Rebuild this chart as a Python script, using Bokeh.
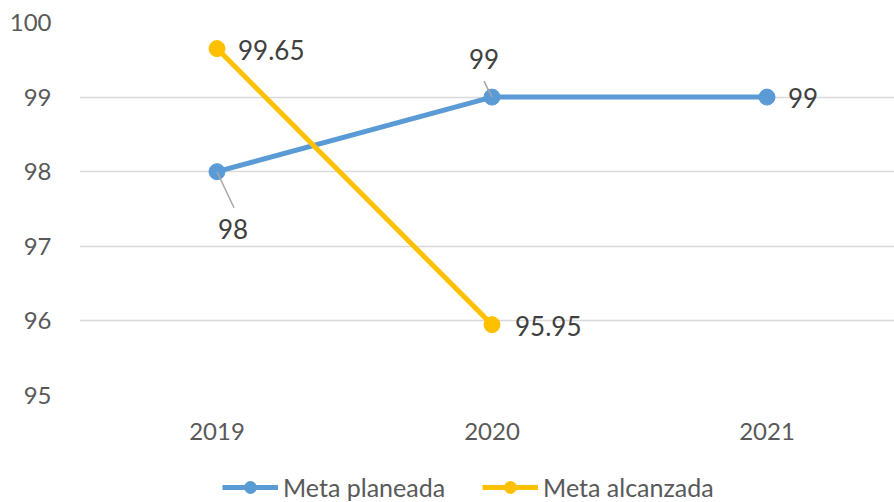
from bokeh.plotting import figure
from bokeh.layouts import column
from bokeh.models import (ColumnDataSource, FixedTicker, Legend, LegendItem, Range1d,
                          CustomJSTickFormatter)
from bokeh.core.properties import value
from bokeh.embed import file_html
from bokeh.resources import INLINE

# ---- data ----
years = ["2019", "2020", "2021"]
meta_planeada = [98, 99, 99]
meta_alcanzada = [99.65, 95.95]
y_ticks = [95, 96, 97, 98, 99, 100]
series_names = ["Meta planeada", "Meta alcanzada"]

BLUE = "#5B9BD5"
YELLOW = "#FFC000"
FONT = "Lato"
TXT = "#595959"
LBL = "#404040"
FS_AX = "24px"
FS_LBL = "26px"
FS_LEG = "25px"

x_pos = [i + 0.5 for i in range(len(years))]

W = 894
H_CHART, H_LEG = 458, 44
LEFT, RIGHT, TOP, BOTTOM = 79, 0, 22, 63
frame_w = W - LEFT - RIGHT
frame_h = H_CHART - TOP - BOTTOM
cat_px = 275
x_end = frame_w / cat_px
px_x = cat_px                                  # px per x unit
px_y = frame_h / (y_ticks[-1] - y_ticks[0])    # px per y unit

p = figure(width=W, height=H_CHART, output_backend="svg", toolbar_location=None,
           x_range=Range1d(0, x_end), y_range=Range1d(y_ticks[0], y_ticks[-1]),
           min_border_left=LEFT, min_border_right=RIGHT,
           min_border_top=TOP, min_border_bottom=BOTTOM)
p.outline_line_color = None
p.background_fill_color = "white"
p.border_fill_color = "white"

# grid
p.xgrid.visible = False
p.ygrid.ticker = FixedTicker(ticks=y_ticks)
p.ygrid.grid_line_color = "#D9D9D9"
p.ygrid.grid_line_width = 1.5

# axes
p.yaxis.ticker = FixedTicker(ticks=y_ticks)
p.xaxis.ticker = FixedTicker(ticks=x_pos)
p.xaxis.formatter = CustomJSTickFormatter(args=dict(labels=years),
                                          code="return labels[Math.floor(tick)];")
for ax in (p.xaxis[0], p.yaxis[0]):
    ax.axis_line_color = None
    ax.major_tick_line_color = None
    ax.minor_tick_line_color = None
    ax.major_label_text_font = FONT
    ax.major_label_text_font_size = FS_AX
    ax.major_label_text_color = TXT
p.yaxis.major_label_standoff = 22
p.xaxis.major_label_standoff = 21

# series
src_p = ColumnDataSource(dict(x=x_pos[:len(meta_planeada)], y=meta_planeada))
src_a = ColumnDataSource(dict(x=x_pos[:len(meta_alcanzada)], y=meta_alcanzada))

p.line("x", "y", source=src_p, line_color=BLUE, line_width=5)
p.scatter("x", "y", source=src_p, size=16, fill_color=BLUE, line_color=BLUE)
p.line("x", "y", source=src_a, line_color=YELLOW, line_width=5)
p.scatter("x", "y", source=src_a, size=16, fill_color=YELLOW, line_color=YELLOW)

# data labels: offsets in px (dx, dy screen-down), align, leader end px or None
lab_specs_p = [((16, 57), "center", (17, 36)),
               ((-8, -38), "center", (-8, -16)),
               ((21, 1), "left", None)]
lab_specs_a = [((21, 1), "left", None),
               ((23, 1), "left", None)]

lx, ly, lt, lxo, lyo, lal = [], [], [], [], [], []
sx0, sy0, sx1, sy1 = [], [], [], []
for vals, specs in ((meta_planeada, lab_specs_p), (meta_alcanzada, lab_specs_a)):
    for i, (v, (off, al, lead)) in enumerate(zip(vals, specs)):
        lx.append(x_pos[i]); ly.append(v); lt.append(f"{v:g}")
        lxo.append(off[0]); lyo.append(off[1]); lal.append(al)
        if lead is not None:
            sx0.append(x_pos[i]); sy0.append(v)
            sx1.append(x_pos[i] + lead[0] / px_x); sy1.append(v - lead[1] / px_y)

p.segment(x0=sx0, y0=sy0, x1=sx1, y1=sy1, line_color="#A6A6A6", line_width=1.5)

lab_src = ColumnDataSource(dict(x=lx, y=ly, text=lt, xo=lxo, yo=lyo, al=lal))
p.text("x", "y", text="text", source=lab_src, x_offset="xo", y_offset="yo",
       text_align="al", text_baseline="middle", text_font=value(FONT),
       text_font_size=FS_LBL, text_color=LBL)

# ---- legend strip (separate figure below the chart; its series lie outside its view) ----
pl = figure(width=W, height=H_LEG, output_backend="svg", toolbar_location=None,
            x_axis_location=None, y_axis_location=None,
            x_range=Range1d(0, x_end), y_range=Range1d(0, 1),
            min_border_left=LEFT, min_border_right=RIGHT, min_border_top=0, min_border_bottom=0)
pl.outline_line_color = None
pl.xgrid.visible = False
pl.ygrid.visible = False
items = []
for name, col, src in zip(series_names, (BLUE, YELLOW), (src_p, src_a)):
    r_line = pl.line("x", "y", source=src, line_color=col, line_width=5)
    r_mark = pl.scatter("x", "y", source=src, size=16, fill_color=col, line_color=col)
    items.append(LegendItem(label=name, renderers=[r_line, r_mark]))

legend = Legend(items=items, orientation="horizontal", location=(222 - LEFT, 0),
                glyph_width=56, glyph_height=30, label_standoff=5, spacing=37,
                padding=0, margin=0, border_line_color=None,
                background_fill_alpha=0,
                label_text_font=FONT, label_text_font_size=FS_LEG, label_text_color=TXT)
pl.add_layout(legend, "center")

layout = column(p, pl, spacing=0)
open("out.html", "w").write(file_html(layout, INLINE))
